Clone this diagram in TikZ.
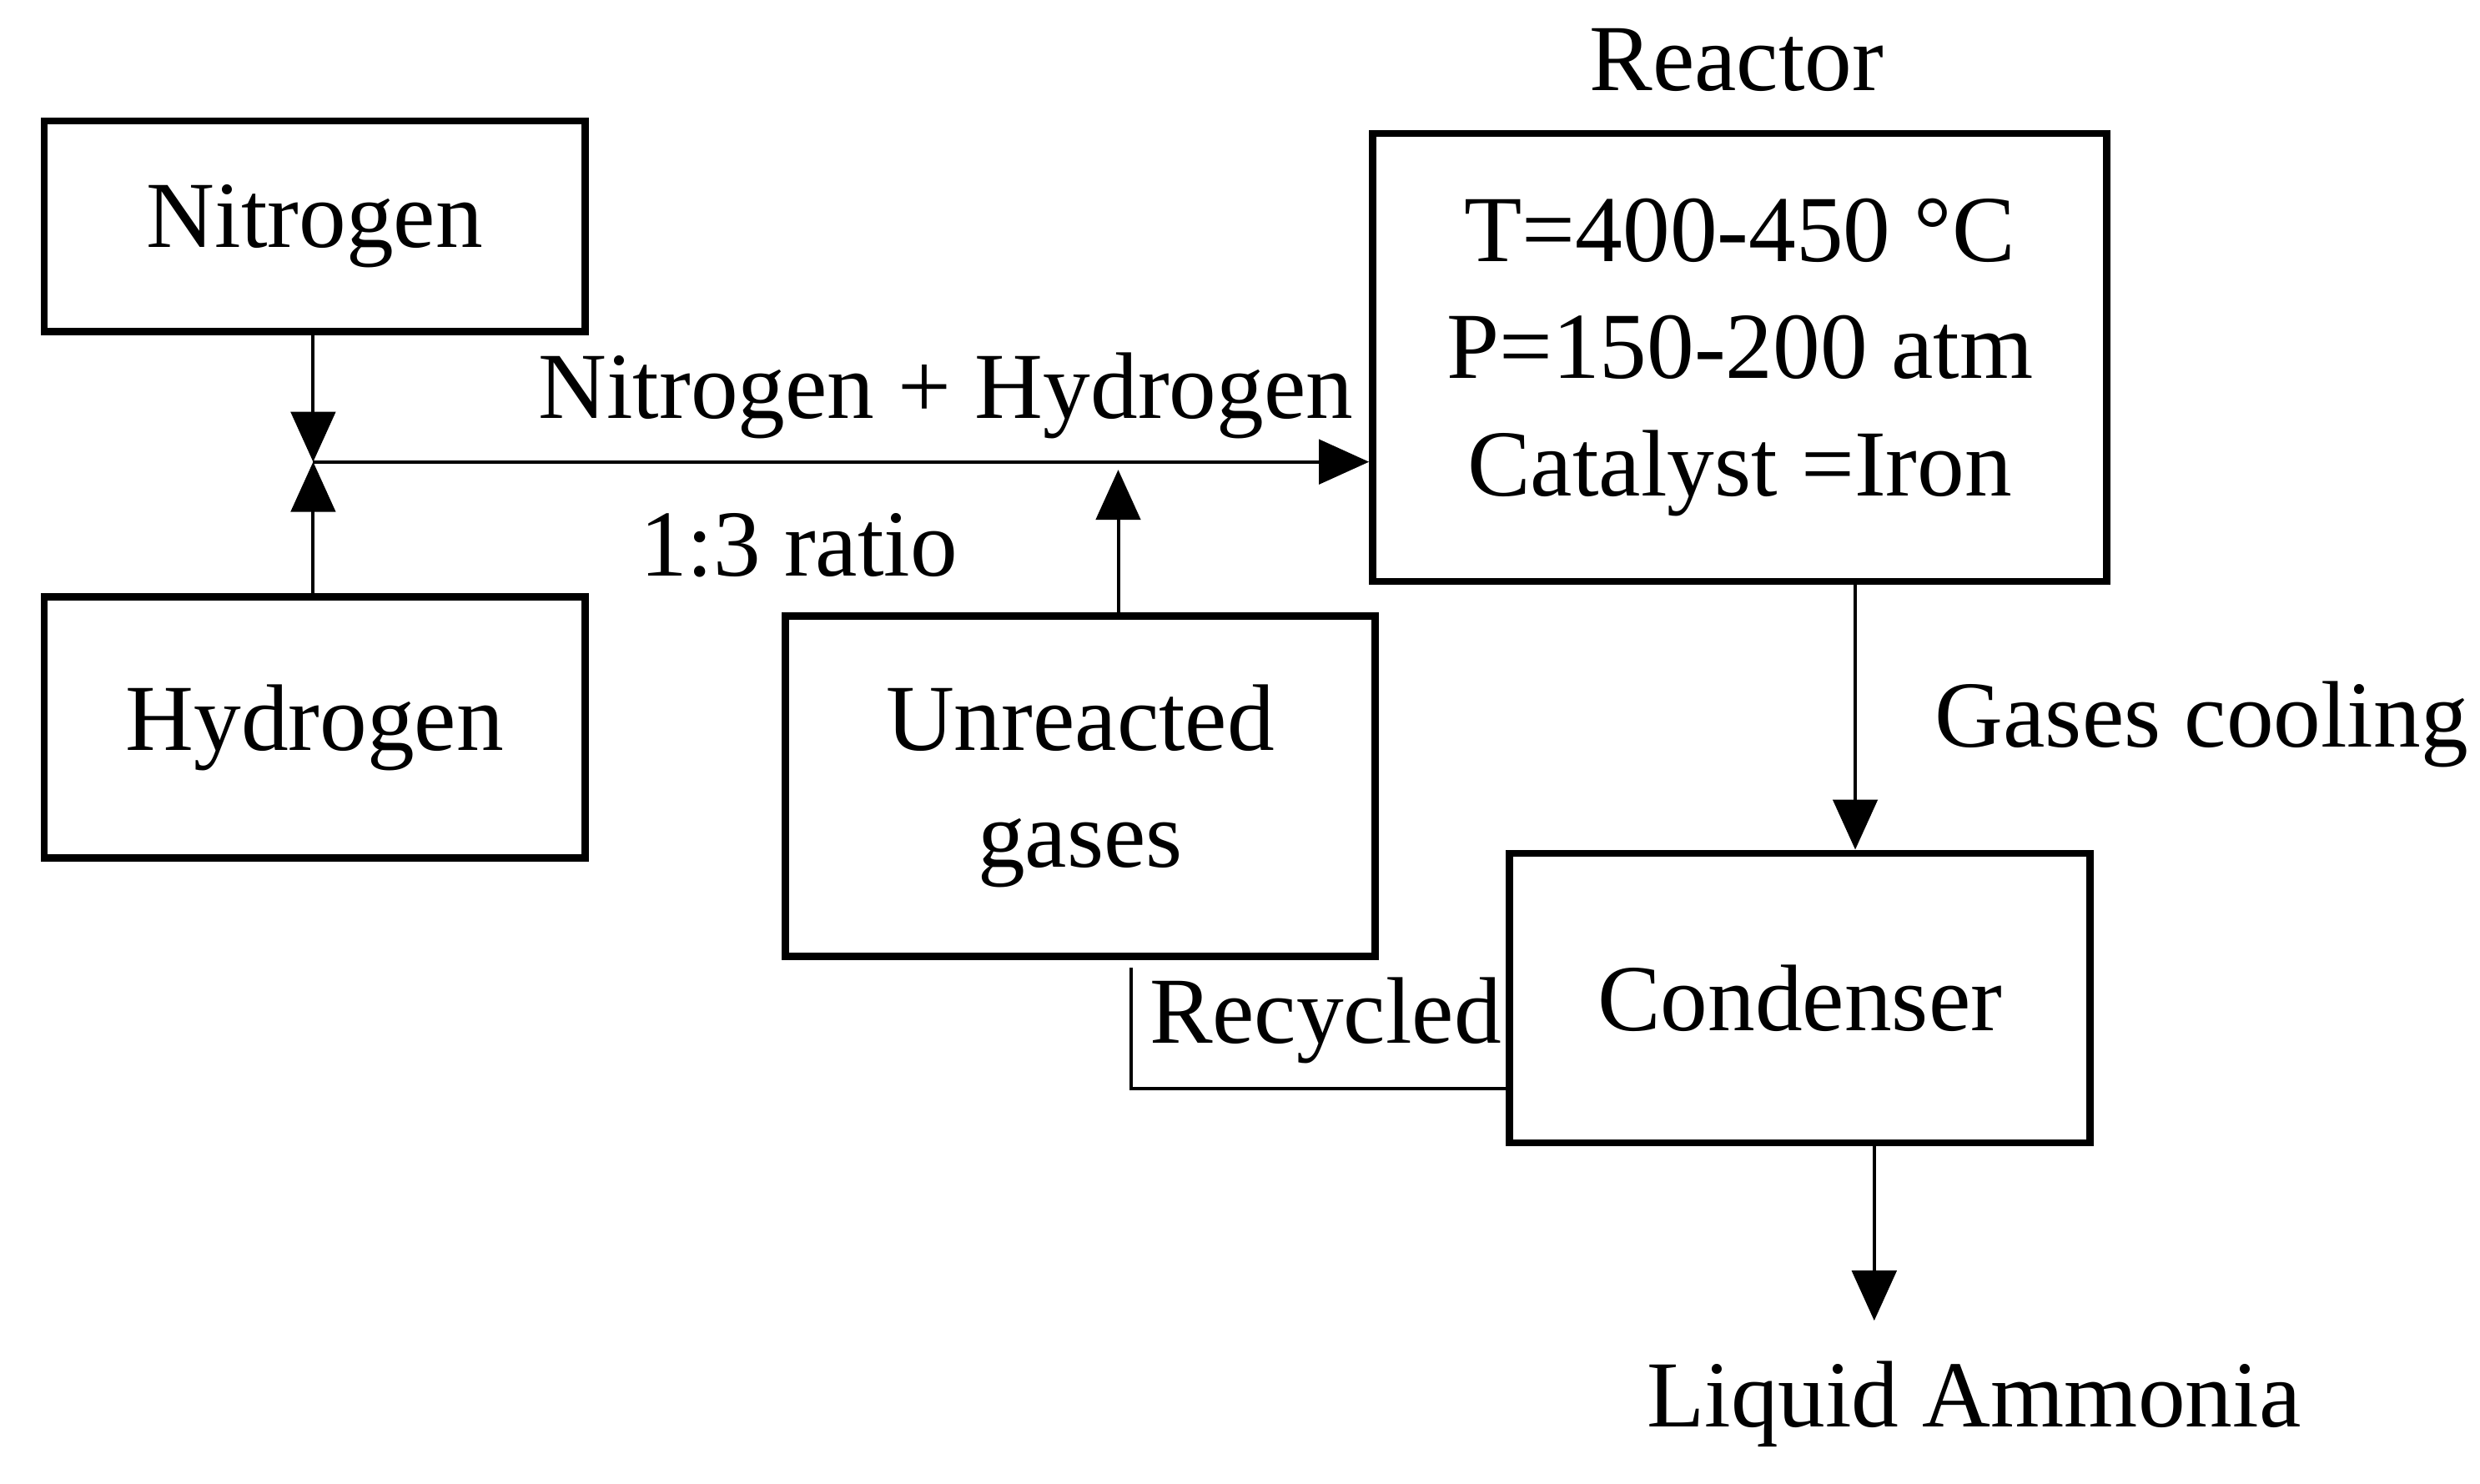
\documentclass[tikz,border=0pt]{standalone}
\usepackage{fontspec}
\setmainfont{Liberation Serif}
\usetikzlibrary{arrows.meta}
\begin{document}
\begin{tikzpicture}[x=0.01cm,y=-0.01cm,
  box/.style={draw,line width=1.3pt,inner sep=0pt,align=center},
  lbl/.style={font=\fontsize{17}{21}\selectfont,align=center},
  arr/.style={line width=0.6pt,-{Triangle[length=9pt,width=8pt]}},
  ln/.style={line width=0.6pt}]
\useasboundingbox (0,0) rectangle (1568,938);
\tikzset{every node/.style={font=\fontsize{17}{21}\selectfont}}
\node[box,minimum width=342\pgflinewidth*0+3.42cm,minimum height=1.33cm] (n) at (199,143) {Nitrogen};
\node[box,minimum width=3.42cm,minimum height=1.65cm] (h) at (199,460) {Hydrogen};
\node[box,minimum width=4.64cm,minimum height=2.83cm] (r) at (1100,226) {T=400-450 °C\\P=150-200 atm\\Catalyst =Iron};
\node[lbl] (rl) at (1098,38) {Reactor};
\node[box,minimum width=3.73cm,minimum height=2.15cm] (u) at (683,497) {Unreacted\\gases};
\node[box,minimum width=3.67cm,minimum height=1.83cm] (c) at (1138,631) {Condenser};
\coordinate (j) at (198,292);
\coordinate (uj) at (707,292);
\coordinate (rc) at (715,688);
\draw[arr] (n.south -| j) -- (j);
\draw[arr] (h.north -| j) -- (j);
\draw[arr] (j) -- (r.west |- j);
\draw[arr] (u.north -| uj) -- ([yshift=-0.05cm]uj);
\draw[arr] (r.south -| 1173,0) -- (c.north -| 1173,0);
\draw[ln] (c.west |- rc) -- (rc) -- (715,612);
\coordinate (la) at (1185,835);
\draw[arr] (c.south -| la) -- (la);
\node[lbl] (t1) at (598,250) {Nitrogen + Hydrogen};
\node[lbl] (t2) at (505,345) {1:3 ratio};
\node[lbl] (t3) at (1392,458) {Gases cooling};
\node[lbl] (t4) at (838,645) {Recycled};
\node[lbl] (t5) at (1248,888) {Liquid Ammonia};
\end{tikzpicture}
\end{document}
